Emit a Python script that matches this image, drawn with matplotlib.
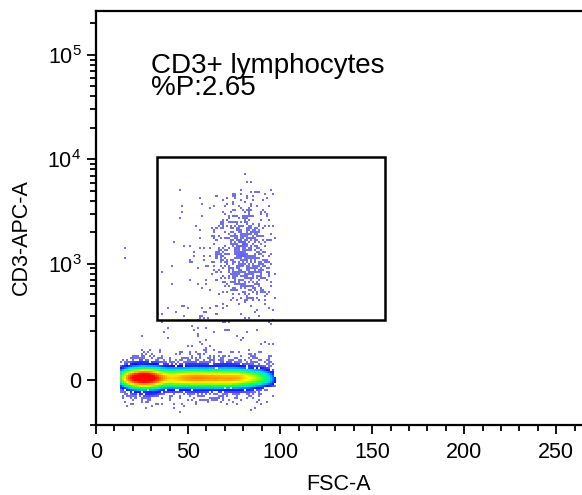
import numpy as np
import matplotlib
matplotlib.use('Agg')
import matplotlib.pyplot as plt
from matplotlib.colors import LinearSegmentedColormap, LogNorm
from matplotlib.patches import Rectangle

plt.rcParams['font.family'] = ['Liberation Sans', 'DejaVu Sans']
plt.rcParams['mathtext.fontset'] = 'custom'
plt.rcParams['mathtext.rm'] = 'Liberation Sans'

# axis text
x_label = 'FSC-A'
y_label = 'CD3-APC-A'
gate_name = 'CD3+ lymphocytes'
gate_pct = 2.65

# gate rectangle (FSC-A, CD3-APC-A)
gate_x = [33.3, 157.0]
gate_y = [270, 10500]

# ticks
x_ticks = [0, 50, 100, 150, 200, 250]
x_minor = [v for v in range(0, 265, 10) if v % 50]
y_ticks = [0, 1e3, 1e4, 1e5]
y_tick_labels = ['0', r'$\mathregular{10^3}$', r'$\mathregular{10^4}$', r'$\mathregular{10^5}$']
y_minor = [200, 300, 400, 500, 600, 700, 800, 900] + \
          [k * 10**d for d in (3, 4) for k in range(2, 10)] + [2e5]

# CD3- events sitting on the baseline (three FSC sub-groups)
neg_n = [7000, 7800, 4400]
neg_x_mean = [25, 52, 78]
neg_x_sd = [6.5, 14, 11]
neg_x_range = [13.5, 97]
neg_y_mean = 7
neg_y_sd = [14, 34]          # core / wide fringe
neg_fringe_frac = 0.18

# CD3+ cluster (log-normal on the APC axis)
pos_n = 780
pos_x_mean = 81
pos_x_sd = 8
pos_log_mean = 3.09
pos_log_sd = 0.25
# sparse CD3+ events with lower FSC
pos_tail_n = 40
pos_tail_x_mean = 52
pos_tail_x_sd = 12

# stray events between the two populations
mid_n = 90
mid_x_mean = 62
mid_x_sd = 20
mid_log_range = [1.7, 2.6]

xlim = (0, 264)
ylim = (-180, 262144)

C = 155.0


def fwd(v):
    return np.arcsinh(np.asarray(v, dtype=float) / C)


def inv(u):
    return C * np.sinh(np.asarray(u, dtype=float))


rng = np.random.default_rng(11)

xs, ys = [], []
for n, m, s in zip(neg_n, neg_x_mean, neg_x_sd):
    x = rng.normal(m, s, n * 2)
    x = x[(x > neg_x_range[0]) & (x < neg_x_range[1])][:n]
    wide = rng.random(len(x)) < neg_fringe_frac
    xs.append(x)
    ys.append(rng.normal(neg_y_mean, np.where(wide, neg_y_sd[1], neg_y_sd[0])))

x = rng.normal(pos_x_mean, pos_x_sd, pos_n * 2)
x = x[x < neg_x_range[1]][:pos_n]
xs.append(x)
ys.append(10 ** rng.normal(pos_log_mean, pos_log_sd, len(x)))

xs.append(rng.normal(pos_tail_x_mean, pos_tail_x_sd, pos_tail_n))
ys.append(10 ** rng.normal(pos_log_mean, pos_log_sd * 1.2, pos_tail_n))

x = rng.normal(mid_x_mean, mid_x_sd, mid_n * 2)
x = x[(x > neg_x_range[0]) & (x < neg_x_range[1])][:mid_n]
xs.append(x)
ys.append(10 ** rng.uniform(mid_log_range[0], mid_log_range[1], len(x)))

ex = np.concatenate(xs)
ey = np.concatenate(ys)

# pixel-like binning in display space
xe = np.arange(xlim[0], xlim[1] + 1.1, 1.1)
ue = np.arange(fwd(ylim[0]), fwd(ylim[1]) + 0.044, 0.044)
H, _, _ = np.histogram2d(ex, fwd(ey), bins=[xe, ue])


def gauss(sig):
    k = np.exp(-0.5 * (np.arange(-8, 9) / sig) ** 2)
    return k / k.sum()


S = np.apply_along_axis(lambda r: np.convolve(r, gauss(2.6), mode='same'), 0, H)
S = np.apply_along_axis(lambda r: np.convolve(r, gauss(1.4), mode='same'), 1, S)
D = np.ma.masked_where(H == 0, np.maximum(S, 0.05))

cmap = LinearSegmentedColormap.from_list('flow', [
    (0.0, '#7070ea'), (0.12, '#4040f6'), (0.25, '#0a0aff'), (0.38, '#0088ff'),
    (0.5, '#00e0f0'), (0.6, '#00ff70'), (0.7, '#70ff10'), (0.8, '#ffff00'),
    (0.9, '#ff8800'), (1.0, '#ff0000')])

fig = plt.figure(figsize=(5.82, 4.95), dpi=100)
ax = fig.add_axes([96 / 582, 1 - 425 / 495, 1 - 96 / 582, (425 - 11) / 495])
ax.set_yscale('function', functions=(fwd, inv))
ax.pcolormesh(xe, inv(ue), D.T, cmap=cmap,
              norm=LogNorm(vmin=1.3, vmax=0.75 * D.max(), clip=True),
              shading='flat', rasterized=True)

ax.add_patch(Rectangle((gate_x[0], gate_y[0]), gate_x[1] - gate_x[0],
                       gate_y[1] - gate_y[0], fill=False, ec='black', lw=1.8, zorder=3))

ax.set_xlim(*xlim)
ax.set_ylim(*ylim)
ax.set_xticks(x_ticks)
ax.set_xticks(x_minor, minor=True)
ax.set_yticks(y_ticks)
ax.set_yticklabels(y_tick_labels)
ax.set_yticks(y_minor + [ylim[0]], minor=True)
ax.tick_params(which='major', length=6.5, width=1.3, labelsize=15.5, color='black')
ax.tick_params(which='minor', length=4, width=1.3)
ax.tick_params(axis='x', which='major', pad=6)
ax.tick_params(axis='y', which='major', pad=4)
ax.spines['right'].set_visible(False)
for sp in ('left', 'bottom', 'top'):
    ax.spines[sp].set_linewidth(1.6)

ax.set_xlabel(x_label, fontsize=15.5, labelpad=8)
ax.set_ylabel(y_label, fontsize=15.5)
ax.yaxis.set_label_coords(-0.132, 0.454)

ax.text(0.114, 0.797, '%s\n%%P:%.2f' % (gate_name, gate_pct), transform=ax.transAxes,
        fontsize=20, va='baseline', linespacing=0.78)

fig.savefig('out.png', dpi=100)
